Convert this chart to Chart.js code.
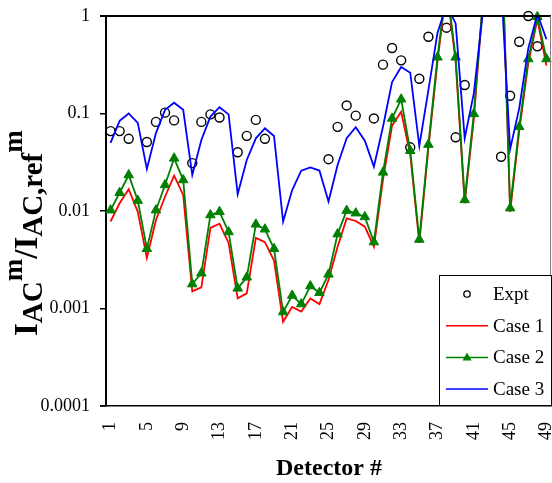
<!DOCTYPE html>
<html>
<head>
<meta charset="utf-8">
<script src="https://cdn.jsdelivr.net/npm/chart.js@4.4.1/dist/chart.umd.min.js"></script>
<style>
  html, body { margin: 0; padding: 0; background: #fff; }
</style>
</head>
<body>
<canvas id="ratioChart" width="552" height="483"></canvas>
<script>
// detector numbers along the x axis
const detectors = [1, 2, 3, 4, 5, 6, 7, 8, 9, 10, 11, 12, 13, 14, 15, 16, 17, 18, 19, 20,
  21, 22, 23, 24, 25, 26, 27, 28, 29, 30, 31, 32, 33, 34, 35, 36, 37, 38, 39, 40,
  41, 42, 43, 44, 45, 46, 47, 48, 49];
const xTickLabels = ['1', '5', '9', '13', '17', '21', '25', '29', '33', '37', '41', '45', '49'];
const yTicks = [0.0001, 0.001, 0.01, 0.1, 1];
const yTickLabels = ['0.0001', '0.001', '0.01', '0.1', '1'];
const seriesNames = ['Expt', 'Case 1', 'Case 2', 'Case 3'];

// measured ratios (null = no measurement)
const expt = [0.066, 0.066, 0.055, null, 0.051, 0.082, 0.102, 0.085, null, 0.031,
  0.082, 0.098, 0.091, null, 0.040, 0.059, 0.086, 0.055, null, null,
  null, null, null, null, 0.034, 0.073, 0.121, 0.095, null, 0.089,
  0.317, 0.47, 0.351, 0.045, 0.227, 0.613, null, 0.759, 0.057, 0.196,
  null, null, null, 0.036, 0.152, 0.545, 1.0, 0.489, null];

const case1 = [0.0078, 0.012, 0.0167, 0.0098, 0.0033, 0.0081, 0.014, 0.023, 0.0146, 0.0015,
  0.00165, 0.0067, 0.0074, 0.0047, 0.00127, 0.00143, 0.0053, 0.0048, 0.0031, 0.00073,
  0.00104, 0.00093, 0.00127, 0.00111, 0.00196, 0.0043, 0.0084, 0.0079, 0.0069, 0.0043,
  0.021, 0.075, 0.104, 0.038, 0.0047, 0.044, 0.34, 2.0, 0.34, 0.012,
  0.088, 1.4, 5, 10, 0.0098, 0.066, 0.33, 0.92, 0.31];

const case2 = [0.0102, 0.0154, 0.0234, 0.0128, 0.0041, 0.0102, 0.0185, 0.0347, 0.0208, 0.00178,
  0.0023, 0.0091, 0.0098, 0.0061, 0.00161, 0.00209, 0.0073, 0.0065, 0.0041, 0.00092,
  0.00136, 0.00111, 0.0017, 0.00145, 0.00224, 0.0058, 0.0101, 0.0095, 0.0087, 0.0048,
  0.0249, 0.089, 0.14, 0.0415, 0.0051, 0.048, 0.377, 2.1, 0.377, 0.013,
  0.099, 1.46, 5, 10, 0.0107, 0.073, 0.362, 0.98, 0.362];

const case3 = [0.050, 0.084, 0.100, 0.080, 0.027, 0.063, 0.109, 0.129, 0.109, 0.0234,
  0.0535, 0.093, 0.116, 0.098, 0.0149, 0.0334, 0.0557, 0.0705, 0.0588, 0.0078,
  0.0164, 0.0259, 0.028, 0.026, 0.0125, 0.0296, 0.0557, 0.0722, 0.0526, 0.0285,
  0.0732, 0.21, 0.30, 0.262, 0.0464, 0.174, 0.67, 1.3, 0.84, 0.0557,
  0.161, 1.1, 3, 2.2, 0.043, 0.113, 0.466, 1.05, 0.577];

const RED = '#ff0000', GREEN = '#008000', BLUE = '#0000ff';
const SERIF = '"Liberation Serif", "Times New Roman", serif';

// top and right edges of the plot box
const plotFrame = {
  id: 'plotFrame',
  afterDatasetsDraw(chart) {
    const { ctx, chartArea: a } = chart;
    ctx.save();
    ctx.strokeStyle = '#000';
    ctx.lineWidth = 2;
    ctx.beginPath();
    ctx.moveTo(a.left - 6, a.top);
    ctx.lineTo(a.right, a.top);
    ctx.stroke();
    ctx.strokeStyle = '#808080';
    ctx.lineWidth = 1;
    ctx.beginPath();
    ctx.moveTo(a.right - 0.5, a.top);
    ctx.lineTo(a.right - 0.5, a.bottom);
    ctx.stroke();
    // x axis runs a little past the y axis
    ctx.strokeStyle = '#000';
    ctx.lineWidth = 1.5;
    ctx.beginPath();
    ctx.moveTo(a.left - 6, a.bottom);
    ctx.lineTo(a.left, a.bottom);
    ctx.stroke();
    ctx.restore();
  }
};

// axis titles (y title needs sub/superscripts)
const axisTitles = {
  id: 'axisTitles',
  afterDraw(chart) {
    const { ctx } = chart;
    ctx.save();
    ctx.fillStyle = '#000';
    ctx.font = 'bold 24px ' + SERIF;
    ctx.textAlign = 'center';
    ctx.textBaseline = 'alphabetic';
    ctx.fillText('Detector #', 329, 475);

    const parts = [
      ['I', 33, 0], ['AC', 29, 5], ['m', 27, -15],
      ['/I', 33, 0], ['AC,ref', 29, 5], ['m', 27, -15]
    ];
    ctx.translate(37, 336);
    ctx.rotate(-Math.PI / 2);
    ctx.textAlign = 'left';
    let x = 0;
    parts.forEach(([txt, size, dy]) => {
      ctx.font = 'bold ' + size + 'px ' + SERIF;
      ctx.fillText(txt, x, dy);
      x += ctx.measureText(txt).width;
    });
    ctx.restore();
  }
};

// boxed legend in the lower right corner of the plot
const boxLegend = {
  id: 'boxLegend',
  afterDraw(chart) {
    const { ctx } = chart;
    const x0 = 439, y0 = 275, w = 112, h = 130;
    ctx.save();
    ctx.fillStyle = '#fff';
    ctx.fillRect(x0, y0, w, h);
    ctx.strokeStyle = '#000';
    ctx.lineWidth = 1;
    ctx.strokeRect(x0 + 0.5, y0 + 0.5, w, h);
    const colors = [null, RED, GREEN, BLUE];
    seriesNames.forEach((name, i) => {
      const y = y0 + 19 + i * 31.7;
      const cx = x0 + 28;
      if (colors[i]) {
        ctx.strokeStyle = colors[i];
        ctx.lineWidth = 1.5;
        ctx.beginPath();
        ctx.moveTo(x0 + 7, y);
        ctx.lineTo(x0 + 49, y);
        ctx.stroke();
      }
      if (i === 0) {
        ctx.strokeStyle = '#000';
        ctx.lineWidth = 1.3;
        ctx.beginPath();
        ctx.arc(cx, y, 3.2, 0, Math.PI * 2);
        ctx.stroke();
      }
      if (i === 2) {
        ctx.fillStyle = GREEN;
        ctx.beginPath();
        ctx.moveTo(cx, y - 5);
        ctx.lineTo(cx + 4.5, y + 3);
        ctx.lineTo(cx - 4.5, y + 3);
        ctx.closePath();
        ctx.fill();
      }
      ctx.fillStyle = '#000';
      ctx.font = '19px ' + SERIF;
      ctx.textAlign = 'left';
      ctx.textBaseline = 'middle';
      ctx.fillText(name, x0 + 54, y + 1);
    });
    ctx.restore();
  }
};

const ctx = document.getElementById('ratioChart').getContext('2d');
new Chart(ctx, {
  type: 'line',
  data: {
    labels: detectors.map(String),
    datasets: [
      {
        label: seriesNames[0], data: expt, showLine: false, clip: false, order: 4,
        pointStyle: 'circle', pointRadius: 4.5, pointBorderWidth: 1.4,
        pointBorderColor: '#000', pointBackgroundColor: 'rgba(0,0,0,0)'
      },
      {
        label: seriesNames[1], data: case1, order: 3,
        borderColor: RED, borderWidth: 1.8, pointRadius: 0, tension: 0
      },
      {
        label: seriesNames[2], data: case2, order: 2,
        borderColor: GREEN, borderWidth: 1.8, pointRadius: 0, tension: 0
      },
      {
        // Case 2 markers, drawn unclipped so the ones on the top edge stay whole
        label: seriesNames[2] + ' markers', data: case2, order: 1, showLine: false, clip: false,
        pointStyle: 'triangle', pointBorderWidth: 1,
        pointRadius: c => (c.raw > 1 ? 0 : 5.5),
        pointBorderColor: GREEN, pointBackgroundColor: GREEN
      },
      {
        label: seriesNames[3], data: case3, order: 0,
        borderColor: BLUE, borderWidth: 1.8, pointRadius: 0, tension: 0
      }
    ]
  },
  options: {
    responsive: false,
    animation: false,
    events: [],
    layout: { autoPadding: false, padding: { top: 16, right: 1, left: 0, bottom: 0 } },
    plugins: { legend: { display: false }, tooltip: { enabled: false } },
    scales: {
      x: {
        type: 'category',
        offset: true,
        grid: { display: false, drawTicks: false },
        border: { display: true, color: '#000', width: 1.5 },
        ticks: {
          autoSkip: false, maxRotation: 90, minRotation: 90, padding: 16,
          color: '#000', font: { family: SERIF, size: 18 },
          callback: function (v) {
            const lab = this.getLabelForValue(v);
            return xTickLabels.includes(lab) ? lab : '';
          }
        },
        afterFit: s => { s.height = 77; s.paddingLeft = 0; s.paddingRight = 0; s.paddingTop = 0; s.paddingBottom = 0; }
      },
      y: {
        type: 'logarithmic',
        min: 0.0001,
        max: 1,
        afterBuildTicks: s => { s.ticks = yTicks.map(v => ({ value: v })); },
        grid: { drawOnChartArea: false, drawTicks: true, tickLength: 6, color: '#000', lineWidth: 1.5 },
        border: { display: true, color: '#000', width: 2 },
        ticks: {
          padding: 10, color: '#000', font: { family: SERIF, size: 18 },
          callback: v => { const i = yTicks.indexOf(v); return i >= 0 ? yTickLabels[i] : ''; }
        },
        afterFit: s => { s.width = 106; s.paddingLeft = 0; s.paddingRight = 0; s.paddingTop = 0; s.paddingBottom = 0; }
      }
    }
  },
  plugins: [plotFrame, axisTitles, boxLegend]
});
</script>
</body>
</html>
